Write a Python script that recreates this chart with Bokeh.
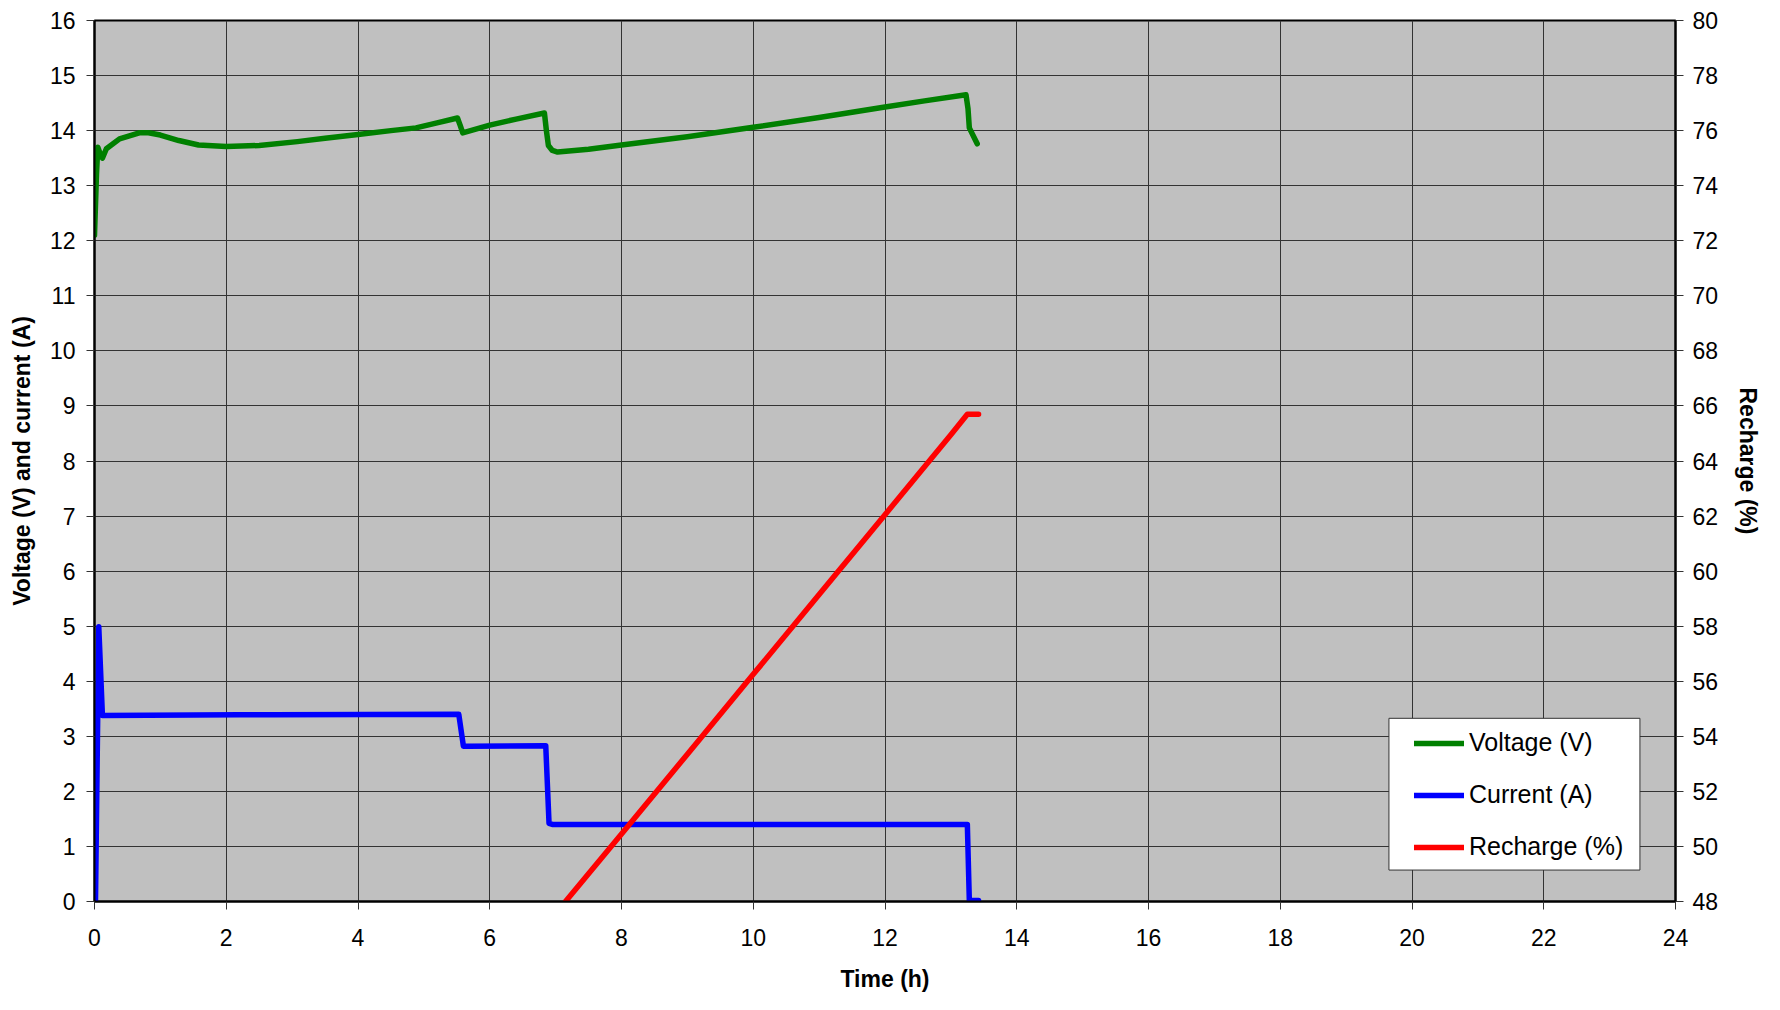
from bokeh.plotting import figure
from bokeh.models import Range1d, LinearAxis, FixedTicker, Legend, LegendItem, BoxAnnotation
from bokeh.embed import file_html
from bokeh.resources import INLINE

# ---- data ----
voltage_t = [0.0, 0.03, 0.05, 0.08, 0.12, 0.18, 0.38, 0.68, 0.82, 1.0, 1.28, 1.58, 2.0, 2.5,
             3.08, 3.5, 4.0, 4.5, 4.88, 5.2, 5.51, 5.55, 5.59, 6.0, 6.4, 6.83, 6.86, 6.89,
             6.95, 7.03, 7.5, 8.0, 9.0, 10.0, 11.0, 12.0, 12.6, 13.23, 13.26, 13.28, 13.4]
voltage_v = [12.1, 13.2, 13.7, 13.6, 13.5, 13.67, 13.85, 13.96, 13.96, 13.92, 13.82, 13.74, 13.71, 13.73,
             13.8, 13.86, 13.93, 14.0, 14.05, 14.14, 14.23, 14.1, 13.96, 14.1, 14.21, 14.32, 14.0, 13.73,
             13.64, 13.61, 13.66, 13.74, 13.89, 14.06, 14.24, 14.43, 14.54, 14.65, 14.4, 14.05, 13.76]

current_t = [0.015, 0.065, 0.12, 2.2, 2.7, 5.53, 5.60, 5.65, 6.85, 6.90, 6.95, 13.25, 13.28, 13.42]
current_a = [0.0, 4.99, 3.38, 3.39, 3.39, 3.40, 2.82, 2.82, 2.83, 1.42, 1.40, 1.40, 0.02, 0.02]

recharge_t = [7.15, 8.0, 9.0, 10.0, 11.0, 12.0, 13.0, 13.25, 13.42]
recharge_pct = [48.0, 50.45, 53.35, 56.25, 59.15, 62.05, 64.95, 65.7, 65.7]

x_ticks = list(range(0, 25, 2))
y_ticks = list(range(0, 17, 1))
pct_ticks = list(range(48, 81, 2))

series_labels = ["Voltage (V)", "Current (A)", "Recharge (%)"]
series_colors = ["#008000", "#0000FF", "#FF0000"]

FONT = "Liberation Sans"

p = figure(width=1764, height=994, x_range=Range1d(0, 24), y_range=Range1d(0, 16),
           output_backend="svg", toolbar_location=None,
           min_border_left=94, min_border_right=86, min_border_top=20, min_border_bottom=92)
p.extra_y_ranges = {"pct": Range1d(48, 80)}

p.background_fill_color = "#C0C0C0"
p.border_fill_color = "white"
p.outline_line_color = "black"
p.outline_line_width = 2

p.xaxis.ticker = FixedTicker(ticks=x_ticks)
p.yaxis.ticker = FixedTicker(ticks=y_ticks)
p.xaxis.axis_label = "Time (h)"
p.yaxis.axis_label = "Voltage (V) and current (A)"

right = LinearAxis(y_range_name="pct", ticker=FixedTicker(ticks=pct_ticks), axis_label="Recharge (%)")
p.add_layout(right, "right")

for ax in [p.xaxis[0], p.yaxis[0], right]:
    ax.major_tick_out = 8
    ax.major_tick_in = 0
    ax.minor_tick_line_color = None
    ax.major_tick_line_color = "#333333"
    ax.axis_line_color = "black"
    ax.axis_line_width = 2
    ax.major_label_text_font = FONT
    ax.major_label_text_font_size = "23px"
    ax.major_label_text_color = "black"
    ax.axis_label_text_font = FONT
    ax.axis_label_text_font_size = "23px"
    ax.axis_label_text_font_style = "bold"
    ax.axis_label_text_color = "black"

p.yaxis[0].major_label_standoff = 11
p.yaxis[0].axis_label_standoff = 12
p.xaxis[0].major_label_standoff = 19
p.xaxis[0].axis_label_standoff = 17
right.major_label_standoff = 9
right.axis_label_standoff = 14

p.xgrid.grid_line_color = "#333333"
p.ygrid.grid_line_color = "#333333"
p.xgrid.grid_line_width = 1
p.ygrid.grid_line_width = 1

rv = p.line(voltage_t, voltage_v, line_color=series_colors[0], line_width=5.5,
            line_join="round", line_cap="round")
rc = p.line(current_t, current_a, line_color=series_colors[1], line_width=5.5,
            line_join="round", line_cap="round")
rr = p.line(recharge_t, recharge_pct, line_color=series_colors[2], line_width=5.5,
            line_join="round", line_cap="round", y_range_name="pct")

# legend frame (white box with thin border)
legend_box = BoxAnnotation(left=19.65, right=23.46, bottom=0.571, top=3.327,
                           fill_color="white", fill_alpha=1.0,
                           line_color="#333333", line_width=1, line_alpha=1.0)
p.add_layout(legend_box)

legend = Legend(items=[LegendItem(label=series_labels[0], renderers=[rv]),
                       LegendItem(label=series_labels[1], renderers=[rc]),
                       LegendItem(label=series_labels[2], renderers=[rr])],
                location=(1308, 28))
legend.padding = 12
legend.spacing = 23
legend.label_height = 26
legend.glyph_height = 26
legend.glyph_width = 50
legend.label_standoff = 5
legend.label_text_font = FONT
legend.label_text_font_size = "25px"
legend.label_text_color = "black"
legend.border_line_alpha = 0
legend.background_fill_alpha = 0
p.add_layout(legend)

open("out.html", "w").write(file_html(p, INLINE))
